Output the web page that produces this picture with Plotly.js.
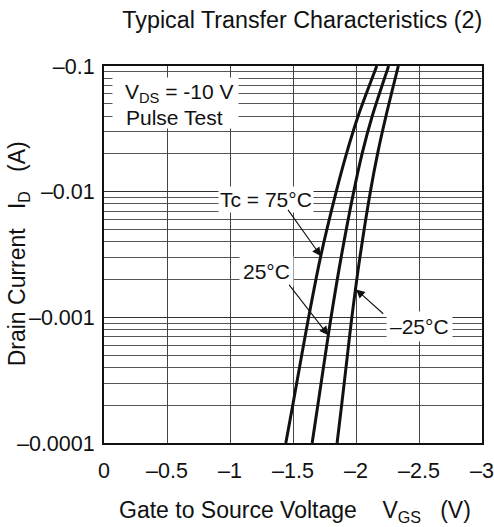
<!DOCTYPE html>
<html>
<head>
<meta charset="utf-8">
<script src="https://cdn.plot.ly/plotly-3.0.1.min.js"></script>
<style>html,body{margin:0;padding:0;background:#fff;}#chart{width:494px;height:527px;}</style>
</head>
<body>
<div id="chart"></div>
<script>
// Drain current (A) sample points shared by all curves
const drainCurrent = [-0.0001, -0.0002, -0.0005, -0.001, -0.003, -0.01, -0.02, -0.04, -0.1];
// Gate-source voltage (V) read for each case temperature
const vgsTc75  = [-1.443, -1.498, -1.569, -1.624, -1.718, -1.843, -1.924, -2.017, -2.165];
const vgsTc25  = [-1.652, -1.697, -1.756, -1.802, -1.882, -1.982, -2.048, -2.129, -2.259];
const vgsTcM25 = [-1.850, -1.886, -1.932, -1.967, -2.031, -2.114, -2.171, -2.238, -2.336];
const seriesNames = ['Tc = 75°C', '25°C', '–25°C'];

const xTickVals = [0, -0.5, -1, -1.5, -2, -2.5, -3];
const xTickText = ['0', '–0.5', '–1', '–1.5', '–2', '–2.5', '–3'];
const yTickVals = [0.0001, 0.001, 0.01, 0.1];
const yTickText = ['–0.0001', '–0.001', '–0.01', '–0.1'];

const FONT = '"Liberation Sans", Arial, Helvetica, sans-serif';
const mag = arr => arr.map(v => Math.abs(v));

const minorVals = [];
[0.0001, 0.001, 0.01].forEach(d => { for (let k = 2; k <= 9; k++) minorVals.push(d * k); });

const traces = [vgsTc75, vgsTc25, vgsTcM25].map((v, i) => ({
  x: v, y: mag(drainCurrent), type: 'scatter', mode: 'lines', name: seriesNames[i],
  line: {color: '#111', width: 3, shape: 'spline', smoothing: 0.8},
  hoverinfo: 'skip'
}));

const labelFont = {family: FONT, size: 21, color: '#111'};
const arrowBase = {text: '', showarrow: true, axref: 'x', ayref: 'y', xref: 'x', yref: 'y',
  arrowhead: 2, arrowsize: 1.6, arrowwidth: 1.1, arrowcolor: '#111', standoff: 0, startstandoff: 0};

const layout = {
  width: 494, height: 527,
  margin: {l: 104, r: 12, t: 66, b: 84},
  paper_bgcolor: '#fff', plot_bgcolor: '#fff',
  showlegend: false,
  font: {family: FONT, color: '#111', size: 20},
  title: {text: 'Typical Transfer Characteristics (2)', font: {family: FONT, size: 23.3, color: '#111'},
    x: 0.612, xanchor: 'center', xref: 'container', y: 0.962, yanchor: 'middle', yref: 'container'},
  xaxis: {
    range: [0, -3], tickmode: 'array', tickvals: xTickVals, ticktext: xTickText,
    showgrid: true, gridcolor: '#444', gridwidth: 1, zeroline: false,
    showline: true, mirror: true, linecolor: '#111', linewidth: 2, ticks: '',
    tickfont: {family: FONT, size: 21.5, color: '#111'}, ticklabelstandoff: 7
  },
  yaxis: {
    type: 'log', range: [-4, -1], tickmode: 'array', tickvals: yTickVals, ticktext: yTickText,
    showgrid: true, gridcolor: '#333', gridwidth: 1, zeroline: false,
    showline: true, mirror: true, linecolor: '#111', linewidth: 2, ticks: '',
    minor: {tickmode: 'array', tickvals: minorVals, showgrid: true, gridcolor: '#555', gridwidth: 1, ticks: ''},
    tickfont: {family: FONT, size: 21.5, color: '#111'}, ticklabelstandoff: 3
  },
  annotations: [
    // axis titles
    {xref: 'paper', yref: 'paper', x: 0.505, y: -0.182, xanchor: 'center', yanchor: 'middle', showarrow: false,
     text: 'Gate to Source Voltage\u00a0\u00a0\u00a0\u00a0V<sub>GS</sub>\u00a0\u00a0\u00a0(V)', font: {family: FONT, size: 23, color: '#111'}},
    {xref: 'paper', yref: 'paper', x: -0.226, y: 0.502, xanchor: 'center', yanchor: 'middle', showarrow: false, textangle: -90,
     text: 'Drain Current\u00a0\u00a0\u00a0I<sub>D</sub>\u00a0\u00a0\u00a0(A)', font: {family: FONT, size: 23, color: '#111'}},
    // white box behind the test-condition note
    {xref: 'x', yref: 'y', x: -0.565, y: -1.2946, text: ' ', showarrow: false, bgcolor: '#fff',
     width: 125, height: 50, borderpad: 0, xanchor: 'center', yanchor: 'middle'},
    {xref: 'x', yref: 'y', x: -0.148, y: -1.217, text: 'V<sub>DS</sub> = -10 V', showarrow: false,
     xanchor: 'left', yanchor: 'middle', font: labelFont},
    {xref: 'x', yref: 'y', x: -0.155, y: -1.408, text: 'Pulse Test', showarrow: false,
     xanchor: 'left', yanchor: 'middle', font: labelFont},
    {xref: 'x', yref: 'y', x: -1.287, y: -2.06, text: seriesNames[0], showarrow: false, bgcolor: '#fff',
     borderpad: 1, xanchor: 'center', yanchor: 'middle', font: labelFont},
    {xref: 'x', yref: 'y', x: -1.289, y: -2.637, text: seriesNames[1], showarrow: false, bgcolor: '#fff',
     borderpad: 3, xanchor: 'center', yanchor: 'middle', font: labelFont},
    {xref: 'x', yref: 'y', x: -2.505, y: -3.07, text: seriesNames[2], showarrow: false, bgcolor: '#fff',
     borderpad: 3, xanchor: 'center', yanchor: 'middle', font: labelFont},
    Object.assign({}, arrowBase, {ax: -1.452, ay: -2.133, x: -1.722, y: -2.513}),
    Object.assign({}, arrowBase, {ax: -1.460, ay: -2.730, x: -1.780, y: -3.142}),
    Object.assign({}, arrowBase, {ax: -2.228, ay: -2.982, x: -2.000, y: -2.778})
  ]
};

Plotly.newPlot('chart', traces, layout, {staticPlot: true, displayModeBar: false});
</script>
</body>
</html>
